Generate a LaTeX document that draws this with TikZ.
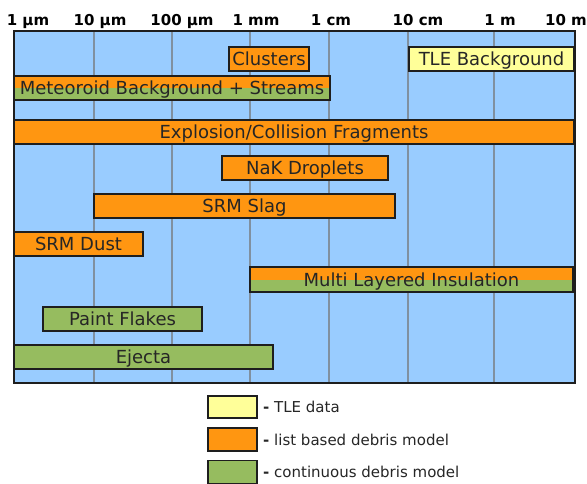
\documentclass[tikz,border=0pt]{standalone}
\usepackage{fontspec}
\setmainfont{DejaVu Sans}
\definecolor{skyb}{RGB}{153,204,255}
\definecolor{barorange}{RGB}{255,150,17}
\definecolor{bargreen}{RGB}{150,188,95}
\definecolor{baryellow}{RGB}{255,255,153}
\definecolor{gridgrey}{RGB}{128,144,160}
\definecolor{edgec}{RGB}{30,30,30}
\begin{document}
\begin{tikzpicture}[x=1pt,y=-1pt,
  bar/.style={draw=edgec, line width=1.3pt, inner sep=0pt, minimum height=24pt,
    text height=13pt, text depth=0pt,
    font=\fontsize{18}{20}\selectfont, text=black!85},
  orangebar/.style={bar, fill=barorange},
  greenbar/.style={bar, fill=bargreen},
  yellowbar/.style={bar, fill=baryellow},
  twotone/.style={bar, fill=barorange, path picture={
    \fill[bargreen] (path picture bounding box.west) rectangle (path picture bounding box.south east);}},
  gridline/.style={draw=gridgrey, line width=1.2pt},
  ticklabel/.style={font=\bfseries\fontsize{15}{16}\selectfont, inner sep=0pt, text height=11pt, text depth=0pt},
  legbox/.style={draw=edgec, line width=1.2pt, minimum width=49pt, minimum height=22pt, inner sep=0pt},
  legtext/.style={anchor=west, inner sep=0pt, font=\fontsize{15}{17}\selectfont, text=black!85,
    text height=11pt, text depth=0pt}
]
\useasboundingbox (0,0) rectangle (587,484);
\fill[white] (0,0) rectangle (587,484);
% plot area
\fill[skyb] (14,31) rectangle (575,383);
\foreach \gx in {94,172,250,329,408,494}
  \draw[gridline] (\gx,31) -- (\gx,383);
\draw[edgec, line width=1.5pt] (14,31) rectangle (575,383);
% tick labels
\node[ticklabel] (t1) at (28,20) {1 µm};
\node[ticklabel] (t2) at (100,20) {10 µm};
\node[ticklabel] (t3) at (182,20) {100 µm};
\node[ticklabel] (t4) at (256,20) {1 mm};
\node[ticklabel] (t5) at (331,20) {1 cm};
\node[ticklabel] (t6) at (418,20) {10 cm};
\node[ticklabel] (t7) at (500,20) {1 m};
\node[ticklabel] (t8) at (566,20) {10 m};
% bars
\node[orangebar, minimum width=80pt] (clusters) at (269,59) {Clusters};
\node[yellowbar, minimum width=165pt] (tle) at (491.5,59) {TLE Background};
\node[twotone, minimum width=316pt] (meteoroid) at (172,88) {Meteoroid Background + Streams};
\node[orangebar, minimum width=560pt] (explosion) at (294,132) {Explosion/Collision Fragments};
\node[orangebar, minimum width=166pt] (nak) at (305,168) {NaK Droplets};
\node[orangebar, minimum width=301pt] (slag) at (244.5,206) {SRM Slag};
\node[orangebar, minimum width=129pt] (dust) at (78.5,244) {SRM Dust};
\node[twotone, minimum width=323pt, minimum height=25pt] (mli) at (411.5,279.5) {Multi Layered Insulation};
\node[greenbar, minimum width=159pt] (paint) at (122.5,319) {Paint Flakes};
\node[greenbar, minimum width=259pt] (ejecta) at (143.5,357) {Ejecta};
% legend
\node[legbox, fill=baryellow] (legtle) at (232.5,407) {};
\node[legbox, fill=barorange, minimum height=23pt] (legorange) at (232.5,439.5) {};
\node[legbox, fill=bargreen, minimum height=23pt] (leggreen) at (232.5,472) {};
\node[legtext] (legtletext) at (263,407) {{\bfseries -} TLE data};
\node[legtext] (legorangetext) at (263,439.5) {{\bfseries -} list based debris model};
\node[legtext] (leggreentext) at (263,472) {{\bfseries -} continuous debris model};
\end{tikzpicture}
\end{document}
